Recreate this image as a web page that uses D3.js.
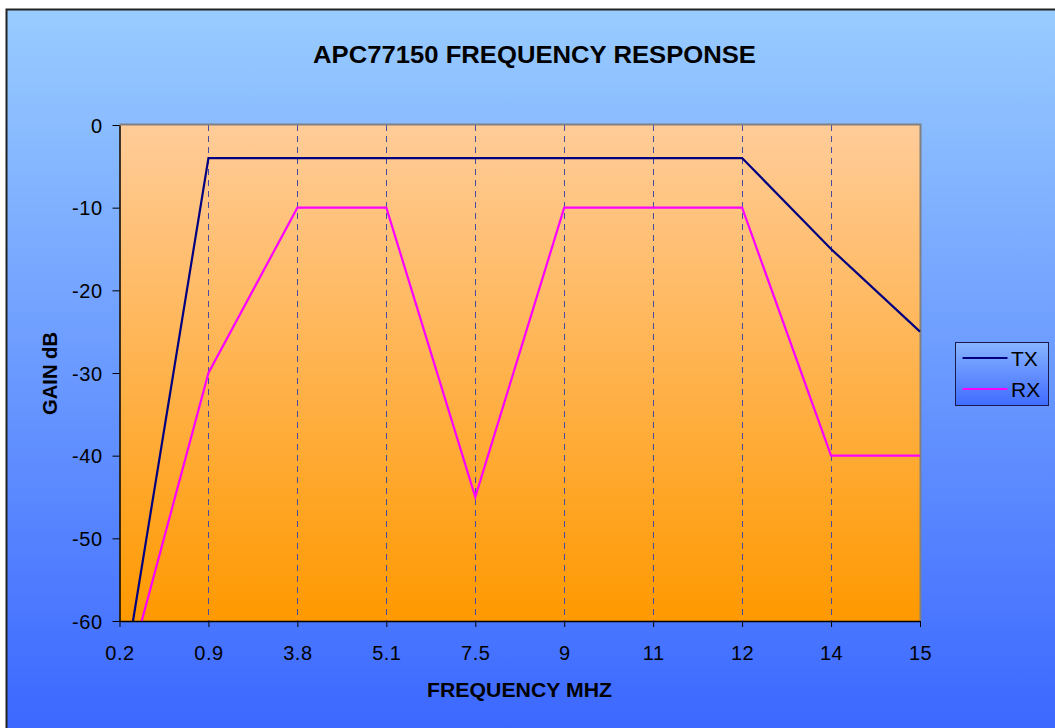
<!DOCTYPE html>
<html><head><meta charset="utf-8">
<script src="https://cdn.jsdelivr.net/npm/d3@7"></script>
<style>body{margin:0;padding:0;background:#fff;overflow:hidden}svg{display:block}</style>
</head><body>
<svg id="c" width="1055" height="728"></svg>
<script>
const categories = ["0.2","0.9","3.8","5.1","7.5","9","11","12","14","15"];
const txValues = [-70,-4,-4,-4,-4,-4,-4,-4,-15,-25];
const rxValues = [-70,-30,-10,-10,-45,-10,-10,-10,-40,-40];
const yTicks = [0,-10,-20,-30,-40,-50,-60];
const seriesNames = ["TX","RX"];
const seriesColors = ["#000080","#FF00FF"];

const FONT = "Liberation Sans, Arial, sans-serif";
const svg = d3.select("#c");
const defs = svg.append("defs");
const bg = defs.append("linearGradient").attr("id","bg").attr("x1",0).attr("y1",0).attr("x2",0).attr("y2",1);
bg.append("stop").attr("offset","0%").attr("stop-color","#99CCFF");
bg.append("stop").attr("offset","100%").attr("stop-color","#3A66FF");
const pg = defs.append("linearGradient").attr("id","pg").attr("x1",0).attr("y1",0).attr("x2",0).attr("y2",1);
pg.append("stop").attr("offset","0%").attr("stop-color","#FFCC99");
pg.append("stop").attr("offset","100%").attr("stop-color","#FF9900");
const lg = defs.append("linearGradient").attr("id","lg").attr("x1",0).attr("y1",0).attr("x2",0).attr("y2",1);
lg.append("stop").attr("offset","0%").attr("stop-color","#88B4FF");
lg.append("stop").attr("offset","100%").attr("stop-color","#3F6CFF");

// chart area
svg.append("rect").attr("x",6.5).attr("y",9.5).attr("width",1060).attr("height",730)
  .attr("fill","url(#bg)").attr("stroke","#222").attr("stroke-width",2);

const L=119.5, R=920, T=125, B=621;
const x = d3.scalePoint().domain(categories).range([L,R]);
const y = d3.scaleLinear().domain([-60,0]).range([B,T]);

svg.append("rect").attr("x",L).attr("y",T).attr("width",R-L).attr("height",B-T).attr("fill","url(#pg)");

// gridlines
svg.append("g").selectAll("line").data(categories.slice(1,-1)).join("line")
  .attr("x1",d=>Math.round(x(d))+0.5).attr("x2",d=>Math.round(x(d))+0.5)
  .attr("y1",T).attr("y2",B)
  .attr("stroke","#4a4aa0").attr("stroke-width",1).attr("stroke-dasharray","6,5");

// plot border (top, right)
svg.append("path").attr("d",`M${L},${T-0.5}H${R+0.5}V${B}`).attr("fill","none").attr("stroke","#808080").attr("stroke-width",2);

// clip
defs.append("clipPath").attr("id","clip").append("rect").attr("x",L).attr("y",T-2).attr("width",R-L+2).attr("height",B-T+2);

const line = d3.line().x((d,i)=>x(categories[i])).y(d=>y(d));
const g = svg.append("g").attr("clip-path","url(#clip)");
[txValues, rxValues].forEach((vals,k)=>{
  g.append("path").datum(vals).attr("d",line).attr("fill","none")
    .attr("stroke",seriesColors[k]).attr("stroke-width",2.2).attr("stroke-linejoin","miter");
});

// axes
const xAxis = d3.axisBottom(x).tickSize(6).tickSizeOuter(0);
const xg = svg.append("g").attr("transform",`translate(0,${B})`).call(xAxis);
xg.select(".domain").attr("stroke","#000").attr("stroke-width",1.5).attr("d",`M${L},0.5H${R}`);
xg.selectAll(".tick line").attr("stroke","#000").attr("y1",0).attr("y2",6);
xg.selectAll(".tick text").attr("dy",0).attr("y",38.5).attr("font-family",FONT).attr("font-size","20px")
  .attr("letter-spacing","0.5px").attr("fill","#000");

const yAxis = d3.axisLeft(y).tickValues(yTicks).tickSize(7).tickSizeOuter(0).tickFormat(d=>String(d));
const yg = svg.append("g").attr("transform",`translate(${L},0)`).call(yAxis);
yg.select(".domain").attr("stroke","#000").attr("stroke-width",1.5);
yg.selectAll(".tick line").attr("stroke","#000");
yg.selectAll(".tick text").attr("x",-17).attr("dy","0.36em").attr("font-family",FONT).attr("font-size","20px")
  .attr("letter-spacing","0.5px").attr("fill","#000");

// titles
svg.append("text").attr("x",534.5).attr("y",63).attr("text-anchor","middle")
  .attr("font-family",FONT).attr("font-weight","bold").attr("font-size","23px")
  .attr("textLength",443).attr("lengthAdjust","spacingAndGlyphs")
  .text("APC77150 FREQUENCY RESPONSE");
svg.append("text").attr("x",519.5).attr("y",697).attr("text-anchor","middle")
  .attr("font-family",FONT).attr("font-weight","bold").attr("font-size","21px")
  .attr("textLength",185).attr("lengthAdjust","spacingAndGlyphs")
  .text("FREQUENCY MHZ");
svg.append("text").attr("transform","translate(57,373.5) rotate(-90)").attr("text-anchor","middle")
  .attr("font-family",FONT).attr("font-weight","bold").attr("font-size","21px")
  .attr("textLength",83).attr("lengthAdjust","spacingAndGlyphs")
  .text("GAIN dB");

// legend
const lgX=955.5, lgY=342.5, lgW=93, lgH=63;
svg.append("rect").attr("x",lgX).attr("y",lgY).attr("width",lgW).attr("height",lgH)
  .attr("fill","url(#lg)").attr("stroke","#1a1a4a").attr("stroke-width",1);
seriesNames.forEach((n,i)=>{
  const yy = lgY + 15.5 + i*31;
  svg.append("line").attr("x1",lgX+7).attr("x2",lgX+52).attr("y1",yy).attr("y2",yy)
    .attr("stroke",seriesColors[i]).attr("stroke-width",2.2);
  svg.append("text").attr("x",lgX+55.5).attr("y",yy+7.5).attr("font-family",FONT)
    .attr("font-size","21px").attr("fill","#000").text(n);
});
</script>
</body></html>
